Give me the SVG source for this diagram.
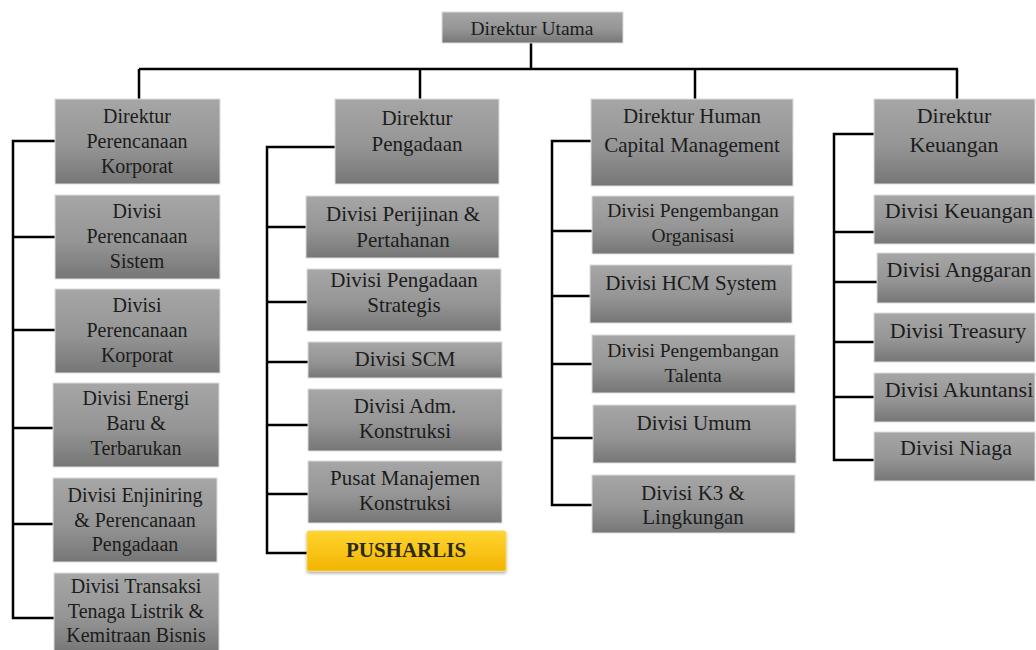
<svg xmlns="http://www.w3.org/2000/svg" width="1036" height="650" viewBox="0 0 1036 650">
<defs>
<linearGradient id="g" x1="0" y1="0" x2="0" y2="1">
<stop offset="0" stop-color="#a6a6a6"/>
<stop offset="0.55" stop-color="#959595"/>
<stop offset="1" stop-color="#767676"/>
</linearGradient>
<linearGradient id="y" x1="0" y1="0" x2="0" y2="1">
<stop offset="0" stop-color="#ffd530"/>
<stop offset="1" stop-color="#f2b400"/>
</linearGradient>
<filter id="sh" x="-10%" y="-20%" width="120%" height="150%">
<feDropShadow dx="0" dy="2" stdDeviation="1.5" flood-color="#000" flood-opacity="0.3"/>
</filter>
</defs>
<style>
.b{fill:url(#g);stroke:#dcdcdc;stroke-width:1}
.p{fill:url(#y);stroke:#f7d36a;stroke-width:1;filter:url(#sh)}
text{font-size:20px;fill:#1c1c1c;text-anchor:middle}
.t{font-size:19.5px}
.c2 text{font-size:21px}
.c3 text{font-size:21px}
.c3 text.s{font-size:19.5px}
.c4 text{font-size:22px}
.bold{font-weight:bold;fill:#2a2a1a}
.c{stroke:#000;stroke-width:2.5;fill:none}
</style>
<rect width="1036" height="650" fill="#fff"/>
<g id="connectors">
<path class="c" d="M531,43V69M139,69H958M139,69V99M420,69V99M695,69V99M957,69V99"/>
<path class="c" d="M55,141H13V618H55M13,237H55M13,330H55M13,428H53M13,524H53"/>
<path class="c" d="M335,147H267V553H307M267,227H306M267,302H307M267,362H308M267,425H308M267,494H308"/>
<path class="c" d="M591,141H552V505H592M552,231H592M552,296H590M552,364H592M552,438H593"/>
<path class="c" d="M874,134H834V460H874M834,232H874M834,282H877M834,342H874M834,397H874"/>
</g>
<g font-family="'Liberation Serif', 'Times New Roman', 'DejaVu Serif', serif">
<g id="direktur-utama"><rect class="b" x="442" y="12" width="181" height="31"/><text class="t" x="532" y="35">Direktur Utama</text></g>

<g class="c1">
<g id="dir-perencanaan"><rect class="b" x="55" y="99" width="165" height="85"/><text x="137" y="123">Direktur</text><text x="137" y="148">Perencanaan</text><text x="137" y="173">Korporat</text></g>
<g id="div-perencanaan-sistem"><rect class="b" x="55" y="195" width="165" height="84"/><text x="137" y="218">Divisi</text><text x="137" y="243">Perencanaan</text><text x="137" y="268">Sistem</text></g>
<g id="div-perencanaan-korporat"><rect class="b" x="55" y="289" width="165" height="84"/><text x="137" y="312">Divisi</text><text x="137" y="337">Perencanaan</text><text x="137" y="362">Korporat</text></g>
<g id="div-energi"><rect class="b" x="53" y="383" width="166" height="84"/><text x="136" y="405">Divisi Energi</text><text x="136" y="430">Baru &amp;</text><text x="136" y="455">Terbarukan</text></g>
<g id="div-enjiniring"><rect class="b" x="53" y="478" width="164" height="84"/><text x="135" y="502">Divisi Enjiniring</text><text x="135" y="527">&amp; Perencanaan</text><text x="135" y="551">Pengadaan</text></g>
<g id="div-transaksi"><rect class="b" x="54" y="573" width="165" height="80"/><text x="136" y="593">Divisi Transaksi</text><text x="136" y="618">Tenaga Listrik &amp;</text><text x="136" y="642">Kemitraan Bisnis</text></g>
</g>

<g class="c2">
<g id="dir-pengadaan"><rect class="b" x="335" y="99" width="164" height="85"/><text x="417" y="125">Direktur</text><text x="417" y="151">Pengadaan</text></g>
<g id="div-perijinan"><rect class="b" x="306" y="196" width="193" height="62"/><text x="403" y="221">Divisi Perijinan &amp;</text><text x="403" y="247">Pertahanan</text></g>
<g id="div-pengadaan-strategis"><rect class="b" x="307" y="269" width="194" height="62"/><text x="404" y="287">Divisi Pengadaan</text><text x="404" y="312">Strategis</text></g>
<g id="div-scm"><rect class="b" x="308" y="342" width="194" height="36"/><text x="405" y="366">Divisi SCM</text></g>
<g id="div-adm"><rect class="b" x="308" y="389" width="194" height="62"/><text x="405" y="413">Divisi Adm.</text><text x="405" y="438">Konstruksi</text></g>
<g id="pusat-manajemen"><rect class="b" x="308" y="461" width="194" height="62"/><text x="405" y="485">Pusat Manajemen</text><text x="405" y="510">Konstruksi</text></g>
<g id="pusharlis"><rect class="p" x="307" y="531" width="199" height="40" rx="2"/><text class="bold" x="406" y="557">PUSHARLIS</text></g>
</g>

<g class="c3">
<g id="dir-hcm"><rect class="b" x="591" y="99" width="202" height="87"/><text x="692" y="123">Direktur Human</text><text x="692" y="152">Capital Management</text></g>
<g id="div-pengembangan-organisasi"><rect class="b" x="592" y="196" width="202" height="58"/><text class="s" x="693" y="217">Divisi Pengembangan</text><text class="s" x="693" y="242">Organisasi</text></g>
<g id="div-hcm-system"><rect class="b" x="590" y="265" width="202" height="58"/><text x="691" y="290">Divisi HCM System</text></g>
<g id="div-pengembangan-talenta"><rect class="b" x="592" y="335" width="203" height="58"/><text class="s" x="693" y="357">Divisi Pengembangan</text><text class="s" x="693" y="382">Talenta</text></g>
<g id="div-umum"><rect class="b" x="593" y="405" width="203" height="58"/><text x="694" y="430">Divisi Umum</text></g>
<g id="div-k3"><rect class="b" x="592" y="475" width="203" height="58"/><text x="693" y="500">Divisi K3 &amp;</text><text x="693" y="524">Lingkungan</text></g>
</g>

<g class="c4">
<g id="dir-keuangan"><rect class="b" x="874" y="99" width="161" height="85"/><text x="954" y="123">Direktur</text><text x="954" y="152">Keuangan</text></g>
<g id="div-keuangan"><rect class="b" x="874" y="195" width="161" height="49"/><text x="959" y="218">Divisi Keuangan</text></g>
<g id="div-anggaran"><rect class="b" x="877" y="253" width="158" height="50"/><text x="959" y="277">Divisi Anggaran</text></g>
<g id="div-treasury"><rect class="b" x="874" y="313" width="161" height="49"/><text x="958" y="338">Divisi Treasury</text></g>
<g id="div-akuntansi"><rect class="b" x="874" y="373" width="161" height="49"/><text x="959" y="397">Divisi Akuntansi</text></g>
<g id="div-niaga"><rect class="b" x="874" y="432" width="161" height="49"/><text x="956" y="455">Divisi Niaga</text></g>
</g>
</g>
</svg>
